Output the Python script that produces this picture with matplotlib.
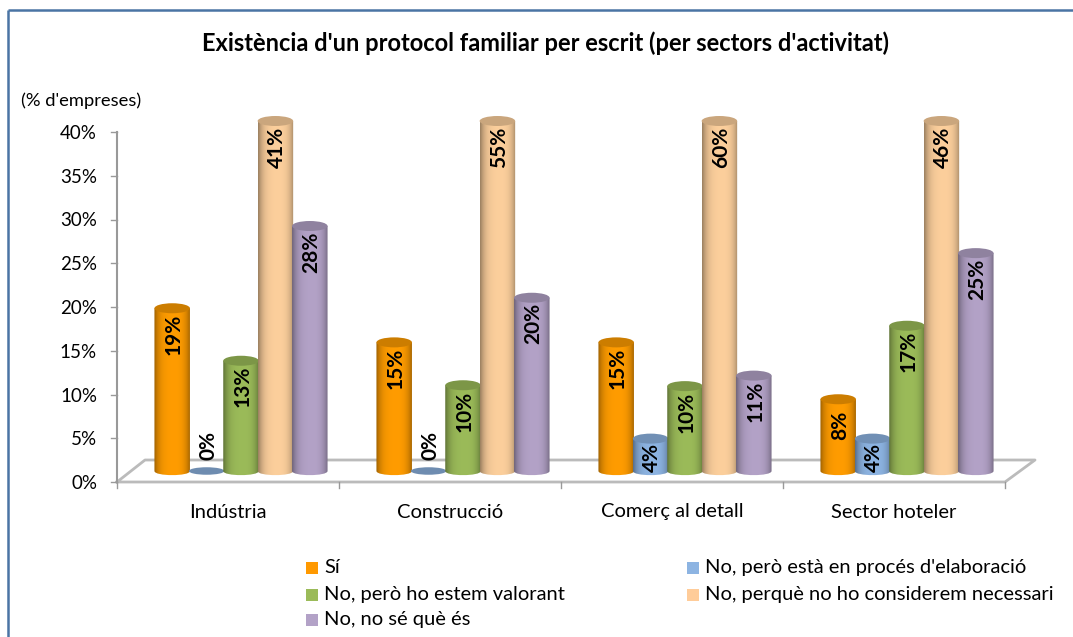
import numpy as np
import matplotlib
matplotlib.use("Agg")
import matplotlib.pyplot as plt
from matplotlib.patches import Ellipse, PathPatch, Rectangle
from matplotlib.path import Path

plt.rcParams['font.family'] = ['Lato', 'DejaVu Sans']

#data, estimated from the cylinder heights, labels are these rounded
categories = ["Indústria", "Construcció", "Comerç al detall", "Sector hoteler"]
si = [18.6, 14.7, 14.7, 8.2]
elaboracio = [0, 0, 3.7, 3.7]
valorant = [12.6, 9.8, 9.7, 16.6]
necessari = [41, 55, 60, 46]
no_se = [28, 19.8, 10.9, 24.9]
y_ticks = [0, 5, 10, 15, 20, 25, 30, 35, 40]

series_names = ["Sí", "No, però està en procés d'elaboració", "No, però ho estem valorant",
                "No, perquè no ho considerem necessari", "No, no sé què és"]
series_values = [si, elaboracio, valorant, necessari, no_se]
colors = ["#FF9C00", "#8DB4E2", "#9BBB59", "#FCCF9C", "#B3A2C7"]
legend_colors = ["#FF9900", "#8DB4E2", "#9BBB59", "#FFCC99", "#B3A2C7"]

W, H = 1073, 637
fig = plt.figure(figsize=(W/100, H/100), dpi=100)

# whole figure is a pixel overlay, the chart axes sits on top
bg = fig.add_axes([0, 0, 1, 1])
bg.set_xlim(0, W)
bg.set_ylim(H, 0)
bg.axis('off')

# 8.75 px per percent, axes goes up to 46 so the tall cylinders are not cut by imshow
left, right, bottom = 117, 1005, 482
y_top = 46
y_scale = 8.75
top = bottom-y_top*y_scale
ax = fig.add_axes([left/W, 1-bottom/H, (right-left)/W, (bottom-top)/H])
ax.set_xlim(0, 4)
ax.set_ylim(0, y_top)
ax.patch.set_alpha(0)
ax.axis('off')

px_x = 4/(right-left)
px_y = 1/y_scale

# frame, cut off at right and bottom
bg.plot([7.5, 7.5], [H, 10], color="#4A74A4", lw=1.8, solid_capstyle='butt')
bg.plot([7.5, W], [10, 10], color="#4A74A4", lw=1.8, solid_capstyle='butt')

# floor
grey = "#BBBBBB"
ax.plot([0, 28*px_x, 4+30*px_x, 4, 0], [0, 22*px_y, 22*px_y, 0, 0], color=grey, lw=2,
        clip_on=False, zorder=1)
ax.plot([0, 0], [0, 40], color="#999999", lw=1.5, zorder=2, clip_on=False)
for t in y_ticks:
    ax.plot([-6*px_x, 0], [t, t], color="#999999", lw=1, clip_on=False)
    ax.text(-20*px_x, t-1.5*px_y, str(t)+"%", ha='right', va='center', fontsize=13.5, color="black")
for i in range(5):
    ax.plot([i, i], [0, -6*px_y], color="#999999", lw=1, clip_on=False)
for i, c in enumerate(categories):
    ax.text(i+0.5, -35.5*px_y, c, ha='center', va='baseline', fontsize=14.5, color="black")

# cylinders
bar_step = 34.4*px_x
bar_w = 35.5*px_x
off_x = 13*px_x
off_y = 11*px_y
cap_h = 10*px_y


def shade(col):
    rgb = np.array(matplotlib.colors.to_rgb(col))
    u = np.linspace(-1, 1, 64)
    # darker at both edges, left a bit more
    k = 1 - 0.33*np.abs(u)**3.5 - 0.05*np.clip(-u, 0, 1)
    return (rgb[None, :]*k[:, None])[None, :, :]


def cylinder(x, val, col, z):
    x0 = x-bar_w/2
    x1 = x+bar_w/2
    base = off_y
    y1 = base+val
    rgb = np.array(matplotlib.colors.to_rgb(col))
    if val == 0:
        ax.add_patch(Ellipse((x, base), bar_w, cap_h*0.75, fc=rgb*0.78, ec='none', zorder=z, clip_on=False))
        return
    verts = [(x0, y1), (x1, y1), (x1, base), (x1, base-cap_h*0.55), (x0, base-cap_h*0.55), (x0, base), (x0, y1)]
    codes = [Path.MOVETO, Path.LINETO, Path.LINETO, Path.CURVE4, Path.CURVE4, Path.CURVE4, Path.CLOSEPOLY]
    clip = PathPatch(Path(verts, codes), fc='none', ec='none', transform=ax.transData)
    ax.add_patch(clip)
    im = ax.imshow(shade(col), extent=(x0, x1, base-cap_h, y1), aspect='auto', zorder=z, interpolation='bilinear')
    im.set_clip_path(clip)
    ax.add_patch(Ellipse((x, y1), bar_w, cap_h, fc=rgb*0.8, ec='none', zorder=z+0.1, clip_on=False))


labels = []
for s, vals in enumerate(series_values):
    for i, v in enumerate(vals):
        x = i+0.5+off_x+(s-2)*bar_step
        shown = min(v, 40)
        cylinder(x, shown, colors[s], 3+s*0.3)
        if v == 0:
            ly = off_y+25*px_y
        elif v < 5:
            ly = off_y+shown-19*px_y
        else:
            ly = off_y+shown-26*px_y
        labels.append((x+1.5*px_x, ly, f"{v:.0f}%"))
for x, y, t in labels:
    ax.text(x, y, t, rotation=90, ha='center', va='center', fontsize=15, fontweight='bold',
            color="black", zorder=10, clip_on=False)
ax.set_xlim(0, 4)
ax.set_ylim(0, y_top)

# titles
bg.text(546, 43, "Existència d'un protocol familiar per escrit (per sectors d'activitat)",
        ha='center', va='center', fontsize=17, fontweight='bold', color="black")
bg.text(21, 100.5, "(% d'empreses)", ha='left', va='center', fontsize=13.2, color="black")

# legend
leg_x = [306, 687]
leg_y = [568, 595, 620]
for s, name in enumerate(series_names):
    lx = leg_x[s % 2]
    ly = leg_y[s//2]
    bg.add_patch(Rectangle((lx, ly-6), 12, 12, fc=legend_colors[s], ec='none'))
    bg.text(lx+18, ly+5, name, ha='left', va='baseline', fontsize=14.5, color="black")

fig.savefig("out.png", dpi=100)
